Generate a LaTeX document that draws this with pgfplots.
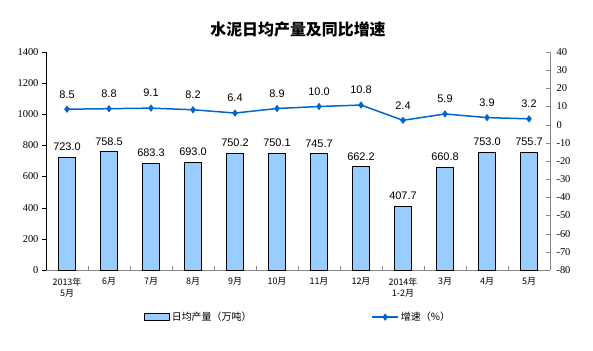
\documentclass[border=0pt]{standalone}
\usepackage{fontspec}
\setmainfont{Liberation Sans}
\newfontfamily\cjk{Noto Sans CJK SC}
\newfontfamily\tnr{Liberation Serif}
\usepackage{pgfplots}
\pgfplotsset{compat=1.18}
\definecolor{barblue}{HTML}{99CCFF}
\definecolor{lineblue}{HTML}{0066CC}
\definecolor{axgray}{HTML}{868686}
\pgfplotsset{
  mybarleg/.style={legend image code/.code={\draw[##1] (0bp,-3.5bp) rectangle (25bp,3.5bp);}},
  mylineleg/.style={legend image code/.code={\draw[##1,mark=none] (0bp,0bp)--(26bp,0bp); \draw[##1] plot coordinates {(13bp,0bp)};}},
}
\begin{document}
\begin{tikzpicture}
\path[use as bounding box] (0bp,0bp) rectangle (593bp,351bp);
\node[font=\cjk\bfseries\fontsize{16}{18}\selectfont] at (298bp,321bp) {水泥日均产量及同比增速};
\begin{axis}[
  at={(46bp,81bp)}, anchor=south west,
  width=504bp, height=218bp, scale only axis,
  xmin=-0.5, xmax=11.5, ymin=0, ymax=1400,
  ytick={0,200,...,1400},
  xtick={0,...,11},
  xticklabels={{2013年\\5月},6月,7月,8月,9月,10月,11月,12月,{2014年\\1-2月},3月,4月,5月},
  xticklabel style={font=\cjk\fontsize{9}{11}\selectfont, align=center, text=black},
  minor xtick={-0.5,0.5,...,11.5},
  major x tick style={draw=none},
  minor x tick style={axgray, yshift=4bp},
  minor tick length=4bp,
  major tick length=4bp,
  tick align=outside,
  axis y line*=left, axis x line*=bottom,
  y axis line style={black, -},
  x axis line style={axgray, line width=0.8bp, -},
  y tick style={black},
  yticklabel style={font=\tnr\fontsize{10.5}{12}\selectfont},
  /pgf/number format/assume math mode=true,
  /pgf/number format/1000 sep={},
  clip=false,
  legend style={at={(0.5,-0.216)}, anchor=center, draw=none, fill=none,
    legend columns=2, font=\cjk\fontsize{10}{12}\selectfont,
    /tikz/every even column/.append style={column sep=118bp},
    legend cell align=left},
]
\addplot[ybar, bar width=17bp, fill=barblue, draw=black, line width=0.8bp,
  nodes near coords,
  nodes near coords style={font=\fontsize{11}{13}\selectfont, yshift=3bp,
    /pgf/number format/.cd, fixed, fixed zerofill, precision=1, assume math mode=true},
  mybarleg]
coordinates {(0,723.0) (1,758.5) (2,683.3) (3,693.0) (4,750.2) (5,750.1) (6,745.7) (7,662.2) (8,407.7) (9,660.8) (10,753.0) (11,755.7)};
\addlegendentry{日均产量（万吨）}
\addlegendimage{lineblue, line width=1.5bp, mark=diamond*, mark size=2.5bp, mylineleg}
\addlegendentry{增速（\%）}
\end{axis}
\begin{axis}[
  at={(46bp,81bp)}, anchor=south west,
  width=504bp, height=218bp, scale only axis,
  xmin=-0.5, xmax=11.5, ymin=-80, ymax=40,
  ytick={-80,-70,...,40},
  axis y line*=right, axis x line=none,
  y axis line style={axgray, line width=0.8bp, -},
  y tick style={axgray},
  tick align=inside, major tick length=4bp,
  yticklabel style={font=\tnr\fontsize{10.5}{12}\selectfont, xshift=3bp},
  /pgf/number format/assume math mode=true,
  clip=false,
]
\addplot[lineblue, line width=1.5bp, mark=diamond*, mark size=2.5bp,
  nodes near coords,
  nodes near coords style={font=\fontsize{11}{13}\selectfont, text=black, yshift=7bp,
    /pgf/number format/.cd, fixed, fixed zerofill, precision=1, assume math mode=true}]
coordinates {(0,8.5) (1,8.8) (2,9.1) (3,8.2) (4,6.4) (5,8.9) (6,10.0) (7,10.8) (8,2.4) (9,5.9) (10,3.9) (11,3.2)};
\end{axis}
\end{tikzpicture}
\end{document}
